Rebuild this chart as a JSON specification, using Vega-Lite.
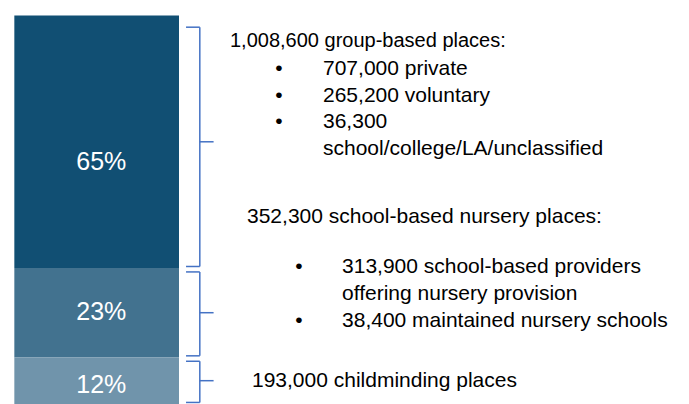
{
  "$schema": "https://vega.github.io/schema/vega-lite/v6.json",
  "width": 689,
  "height": 404,
  "autosize": {"type": "fit", "contains": "padding"},
  "padding": 0,
  "background": "white",
  "config": {"view": {"stroke": null}, "text": {"font": "Liberation Sans"}},
  "datasets": {
    "segments": [
      {"type": "Group-based", "pct": 65, "label": "65%", "order": 3},
      {"type": "School-based nursery", "pct": 23, "label": "23%", "order": 2},
      {"type": "Childminding", "pct": 12, "label": "12%", "order": 1}
    ]
  },
  "layer": [
    {
      "data": {"name": "segments"},
      "transform": [
        {"stack": "pct", "groupby": [], "sort": [{"field": "order"}], "as": ["y0", "y1"]}
      ],
      "mark": {"type": "rect"},
      "encoding": {
        "x": {"datum": 2.08, "type": "quantitative", "scale": {"domain": [0, 100]}, "axis": null},
        "x2": {"datum": 25.98},
        "y": {"field": "y0", "type": "quantitative", "scale": {"domain": [0, 104]}, "axis": null},
        "y2": {"field": "y1"},
        "color": {"field": "type", "type": "nominal", "legend": null,
          "scale": {"domain": ["Group-based", "School-based nursery", "Childminding"], "range": ["#114f73", "#42728f", "#7094ab"]}}
      }
    },
    {
      "data": {"name": "segments"},
      "transform": [
        {"stack": "pct", "groupby": [], "sort": [{"field": "order"}], "as": ["y0", "y1"]},
        {"calculate": "(datum.y0 + datum.y1) / 2", "as": "mid"},
        {"filter": "datum.order === 3"}
      ],
      "mark": {"type": "text", "font": "Liberation Sans", "fontSize": 25, "color": "white", "align": "center", "baseline": "middle", "dy": 20},
      "encoding": {
        "x": {"datum": 14.7, "type": "quantitative", "scale": {"domain": [0, 100]}, "axis": null},
        "y": {"field": "mid", "type": "quantitative", "scale": {"domain": [0, 104]}, "axis": null},
        "text": {"field": "label"}
      }
    },
    {
      "data": {"name": "segments"},
      "transform": [
        {"stack": "pct", "groupby": [], "sort": [{"field": "order"}], "as": ["y0", "y1"]},
        {"calculate": "(datum.y0 + datum.y1) / 2", "as": "mid"},
        {"filter": "datum.order === 2"}
      ],
      "mark": {"type": "text", "font": "Liberation Sans", "fontSize": 25, "color": "white", "align": "center", "baseline": "middle", "dy": -1},
      "encoding": {
        "x": {"datum": 14.7, "type": "quantitative", "scale": {"domain": [0, 100]}, "axis": null},
        "y": {"field": "mid", "type": "quantitative", "scale": {"domain": [0, 104]}, "axis": null},
        "text": {"field": "label"}
      }
    },
    {
      "data": {"name": "segments"},
      "transform": [
        {"stack": "pct", "groupby": [], "sort": [{"field": "order"}], "as": ["y0", "y1"]},
        {"calculate": "(datum.y0 + datum.y1) / 2", "as": "mid"},
        {"filter": "datum.order === 1"}
      ],
      "mark": {"type": "text", "font": "Liberation Sans", "fontSize": 25, "color": "white", "align": "center", "baseline": "middle", "dy": 4},
      "encoding": {
        "x": {"datum": 14.7, "type": "quantitative", "scale": {"domain": [0, 100]}, "axis": null},
        "y": {"field": "mid", "type": "quantitative", "scale": {"domain": [0, 104]}, "axis": null},
        "text": {"field": "label"}
      }
    },
    {
      "data": {"name": "segments"},
      "transform": [
        {"stack": "pct", "groupby": [], "sort": [{"field": "order"}], "as": ["y0", "y1"]},
        {"calculate": "datum.y1 >= 100 ? 97 : datum.y1 - 1", "as": "bt"},
        {"calculate": "datum.y0 + 0.4", "as": "bb"}
      ],
      "mark": {"type": "rule", "color": "#4472c4", "strokeWidth": 1.5},
      "encoding": {
        "x": {"datum": 29.0, "type": "quantitative", "scale": {"domain": [0, 100]}, "axis": null},
        "y": {"field": "bb", "type": "quantitative", "scale": {"domain": [0, 104]}, "axis": null},
        "y2": {"field": "bt"}
      }
    },
    {
      "data": {"name": "segments"},
      "transform": [
        {"stack": "pct", "groupby": [], "sort": [{"field": "order"}], "as": ["y0", "y1"]},
        {"calculate": "datum.y1 >= 100 ? 97 : datum.y1 - 1", "as": "bt"}
      ],
      "mark": {"type": "rule", "color": "#4472c4", "strokeWidth": 1.5},
      "encoding": {
        "x": {"datum": 27.0, "type": "quantitative", "scale": {"domain": [0, 100]}, "axis": null},
        "x2": {"datum": 29.0},
        "y": {"field": "bt", "type": "quantitative", "scale": {"domain": [0, 104]}, "axis": null}
      }
    },
    {
      "data": {"name": "segments"},
      "transform": [
        {"stack": "pct", "groupby": [], "sort": [{"field": "order"}], "as": ["y0", "y1"]},
        {"calculate": "datum.y0 + 0.4", "as": "bb"}
      ],
      "mark": {"type": "rule", "color": "#4472c4", "strokeWidth": 1.5},
      "encoding": {
        "x": {"datum": 27.0, "type": "quantitative", "scale": {"domain": [0, 100]}, "axis": null},
        "x2": {"datum": 29.0},
        "y": {"field": "bb", "type": "quantitative", "scale": {"domain": [0, 104]}, "axis": null}
      }
    },
    {
      "data": {"name": "segments"},
      "transform": [
        {"stack": "pct", "groupby": [], "sort": [{"field": "order"}], "as": ["y0", "y1"]},
        {"calculate": "(datum.y0 + datum.y1) / 2", "as": "mid"}
      ],
      "mark": {"type": "rule", "color": "#4472c4", "strokeWidth": 1.5},
      "encoding": {
        "x": {"datum": 29.0, "type": "quantitative", "scale": {"domain": [0, 100]}, "axis": null},
        "x2": {"datum": 31.0},
        "y": {"field": "mid", "type": "quantitative", "scale": {"domain": [0, 104]}, "axis": null}
      }
    },
    {
      "data": {"values": [{}]},
      "mark": {"type": "text", "font": "Liberation Sans", "fontSize": 20, "color": "black", "align": "left", "baseline": "alphabetic",
        "text": "1,008,600 group-based places:"},
      "encoding": {
        "x": {"datum": 33.38, "type": "quantitative", "scale": {"domain": [0, 100]}, "axis": null},
        "y": {"datum": 91.8, "type": "quantitative", "scale": {"domain": [0, 104]}, "axis": null}
      }
    },
    {
      "data": {"values": [{}]},
      "mark": {"type": "text", "font": "Liberation Sans", "fontSize": 21, "color": "black", "align": "center", "baseline": "alphabetic", "lineHeight": 26.7,
        "text": ["•", "•", "•"]},
      "encoding": {
        "x": {"datum": 40.5, "type": "quantitative", "scale": {"domain": [0, 100]}, "axis": null},
        "y": {"datum": 84.68, "type": "quantitative", "scale": {"domain": [0, 104]}, "axis": null}
      }
    },
    {
      "data": {"values": [{}]},
      "mark": {"type": "text", "font": "Liberation Sans", "fontSize": 21, "color": "black", "align": "left", "baseline": "alphabetic", "lineHeight": 26.7,
        "text": ["707,000 private", "265,200 voluntary", "36,300", "school/college/LA/unclassified"]},
      "encoding": {
        "x": {"datum": 46.88, "type": "quantitative", "scale": {"domain": [0, 100]}, "axis": null},
        "y": {"datum": 84.68, "type": "quantitative", "scale": {"domain": [0, 104]}, "axis": null}
      }
    },
    {
      "data": {"values": [{}]},
      "mark": {"type": "text", "font": "Liberation Sans", "fontSize": 21, "color": "black", "align": "left", "baseline": "alphabetic",
        "text": "352,300 school-based nursery places:"},
      "encoding": {
        "x": {"datum": 35.85, "type": "quantitative", "scale": {"domain": [0, 100]}, "axis": null},
        "y": {"datum": 46.6, "type": "quantitative", "scale": {"domain": [0, 104]}, "axis": null}
      }
    },
    {
      "data": {"values": [{}]},
      "mark": {"type": "text", "font": "Liberation Sans", "fontSize": 21, "color": "black", "align": "center", "baseline": "alphabetic", "lineHeight": 54,
        "text": ["•", "•"]},
      "encoding": {
        "x": {"datum": 43.4, "type": "quantitative", "scale": {"domain": [0, 100]}, "axis": null},
        "y": {"datum": 33.7, "type": "quantitative", "scale": {"domain": [0, 104]}, "axis": null}
      }
    },
    {
      "data": {"values": [{}]},
      "mark": {"type": "text", "font": "Liberation Sans", "fontSize": 21, "color": "black", "align": "left", "baseline": "alphabetic", "lineHeight": 27,
        "text": ["313,900 school-based providers", "offering nursery provision", "38,400 maintained nursery schools"]},
      "encoding": {
        "x": {"datum": 49.64, "type": "quantitative", "scale": {"domain": [0, 100]}, "axis": null},
        "y": {"datum": 33.7, "type": "quantitative", "scale": {"domain": [0, 104]}, "axis": null}
      }
    },
    {
      "data": {"values": [{}]},
      "mark": {"type": "text", "font": "Liberation Sans", "fontSize": 21, "color": "black", "align": "left", "baseline": "alphabetic",
        "text": "193,000 childminding places"},
      "encoding": {
        "x": {"datum": 36.57, "type": "quantitative", "scale": {"domain": [0, 100]}, "axis": null},
        "y": {"datum": 4.45, "type": "quantitative", "scale": {"domain": [0, 104]}, "axis": null}
      }
    }
  ]
}
